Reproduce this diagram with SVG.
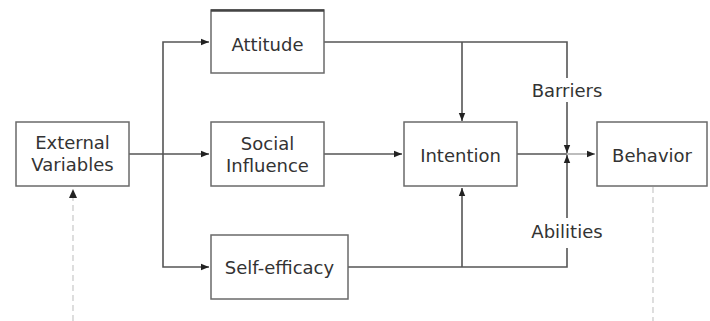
<svg xmlns="http://www.w3.org/2000/svg" width="710" height="321" viewBox="0 0 710 321">
<style>
.box{fill:#fff;stroke:#6a6a6a;stroke-width:1.5}
.lbl{font-family:"DejaVu Sans",Verdana,sans-serif;font-size:18px;fill:#333;text-anchor:middle}
.ln{fill:none;stroke:#555;stroke-width:1.6}
.lt{fill:none;stroke:#999;stroke-width:1.3}
.dash{fill:none;stroke:#ccc;stroke-width:1.3;stroke-dasharray:6,4}
</style>
<defs>
<marker id="ah" viewBox="0 0 10 10" refX="10" refY="5" markerWidth="8" markerHeight="8" markerUnits="userSpaceOnUse" orient="auto">
<path d="M0,1 L10,5 L0,9 z" fill="#222"/>
</marker>
</defs>
<rect width="710" height="321" fill="#fff"/>
<g id="connectors">
<path class="ln" d="M129,154 H209" marker-end="url(#ah)"/>
<path class="ln" d="M163,154 V42 H209" marker-end="url(#ah)"/>
<path class="ln" d="M163,154 V267 H209" marker-end="url(#ah)"/>
<path class="ln" d="M324,42 H567 V78"/>
<path class="ln" d="M567,102 V153" marker-end="url(#ah)"/>
<path class="ln" d="M462,42 V121" marker-end="url(#ah)"/>
<path class="ln" d="M324,154 H402" marker-end="url(#ah)"/>
<path class="ln" d="M517,154 H567"/>
<path class="lt" d="M567,154 H595" marker-end="url(#ah)"/>
<path class="ln" d="M348,267 H567 V248"/>
<path class="ln" d="M567,218 V155" marker-end="url(#ah)"/>
<path class="ln" d="M462,267 V188" marker-end="url(#ah)"/>
<path class="dash" d="M73,321 V196"/>
<path d="M69,198 L73,189 L77,198 z" fill="#222"/>
<path class="dash" d="M653,187 V321"/>
</g>
<g id="external">
<rect class="box" x="16" y="122" width="113" height="64"/>
<text class="lbl" x="72.5" y="149">External</text>
<text class="lbl" x="72.5" y="171">Variables</text>
</g>
<g id="attitude">
<rect class="box" x="211" y="10" width="113" height="63"/>
<line x1="211" y1="10.5" x2="324" y2="10.5" stroke="#444" stroke-width="2.5"/>
<text class="lbl" x="267.5" y="51">Attitude</text>
</g>
<g id="social">
<rect class="box" x="211" y="122" width="113" height="64"/>
<text class="lbl" x="267.5" y="150">Social</text>
<text class="lbl" x="267.5" y="172">Influence</text>
</g>
<g id="selfefficacy">
<rect class="box" x="211" y="235" width="137" height="64"/>
<text class="lbl" x="279.5" y="274">Self-efficacy</text>
</g>
<g id="intention">
<rect class="box" x="404" y="122" width="113" height="64"/>
<text class="lbl" x="460.5" y="162">Intention</text>
</g>
<g id="behavior">
<rect class="box" x="597" y="122" width="110" height="64"/>
<text class="lbl" x="652" y="162">Behavior</text>
</g>
<g id="labels">
<text class="lbl" x="567" y="97">Barriers</text>
<text class="lbl" x="567" y="238">Abilities</text>
</g>
</svg>
